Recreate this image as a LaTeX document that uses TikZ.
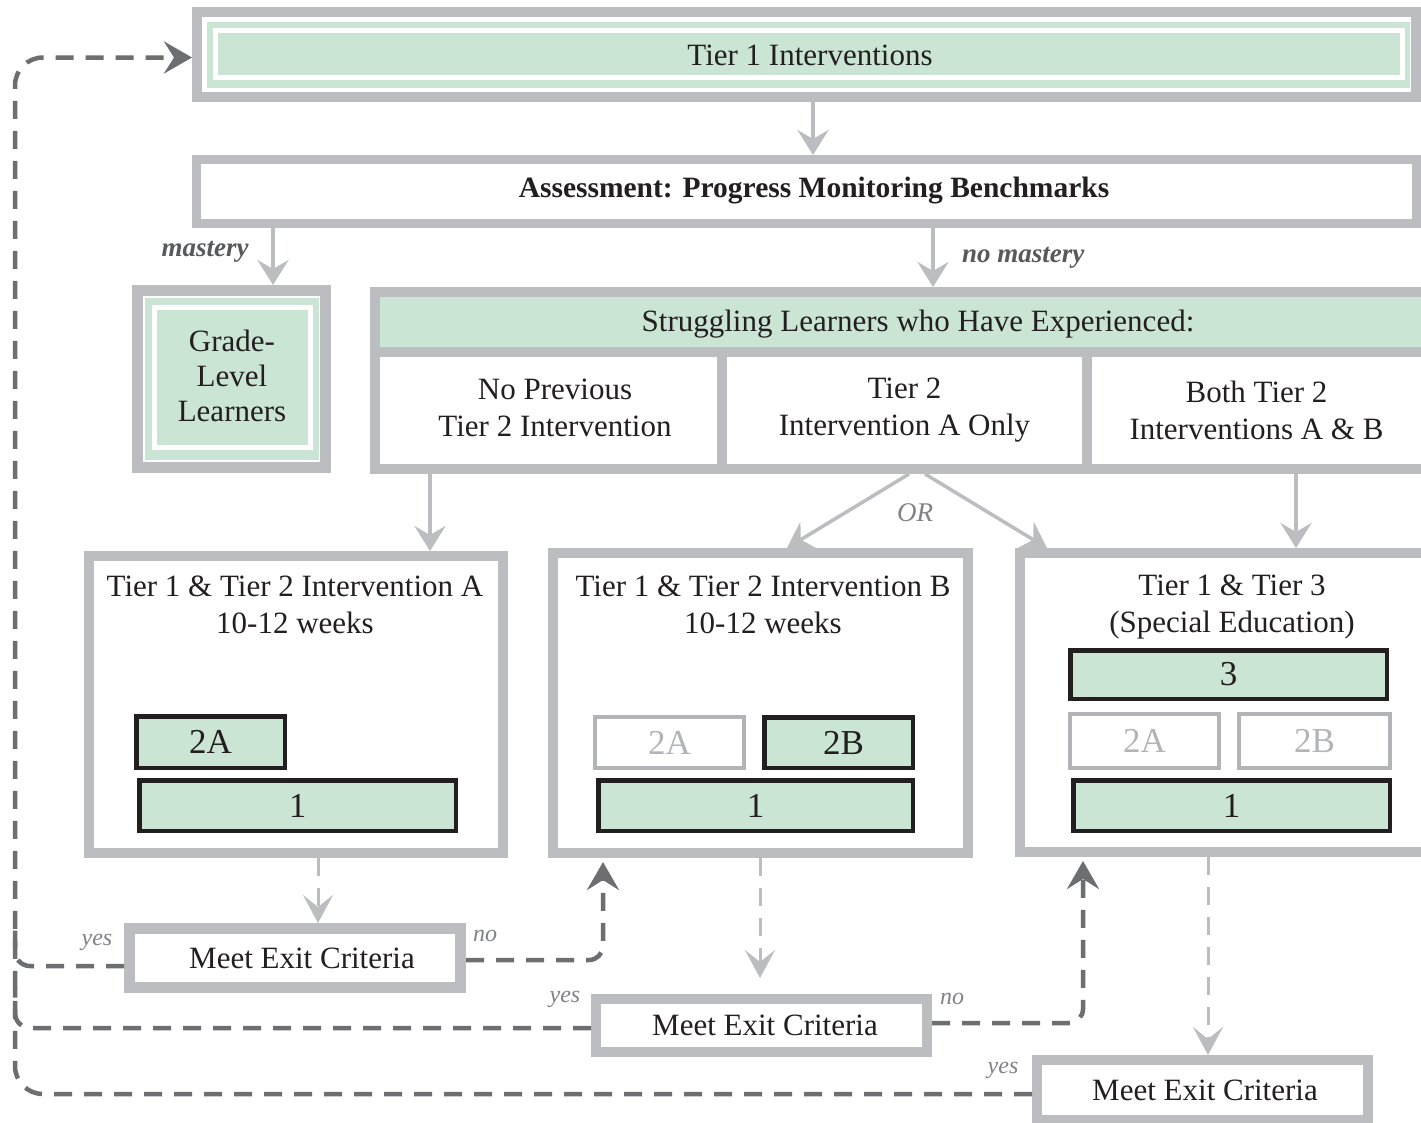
\documentclass[tikz,border=0pt]{standalone}
\usepackage{fontspec}
\setmainfont{Liberation Serif}
\usetikzlibrary{arrows.meta}
\definecolor{frame}{RGB}{188,189,192}
\definecolor{mint}{RGB}{203,229,212}
\definecolor{ink}{RGB}{35,31,32}
\definecolor{dashgray}{RGB}{109,110,113}
\definecolor{labelgray}{RGB}{88,89,91}
\definecolor{softgray}{RGB}{128,130,133}
\definecolor{ghost}{RGB}{178,180,183}

\begin{document}
\begin{tikzpicture}[x=1pt,y=-1pt,
  box/.style={draw=frame, line width=10pt, fill=white, inner sep=0pt},
  body/.style={font=\fontsize{31}{37}\selectfont, text=ink, align=center, inner sep=0pt},
  exitbox/.style={box, font=\fontsize{31}{37}\selectfont, text=ink, minimum width=331pt},
  tierbar/.style={draw=ink, line width=4.5pt, fill=mint, inner sep=0pt,
    font=\fontsize{35}{40}\selectfont, text=ink},
  ghostbar/.style={draw=ghost, line width=4pt, fill=white, inner sep=0pt,
    font=\fontsize{35}{40}\selectfont, text=ghost},
  flow/.style={draw=frame, line width=4.5pt, -{Stealth[length=25pt,width=31pt,inset=9pt]}},
  exitline/.style={draw=frame, line width=3pt, dash pattern=on 18pt off 12pt,
    -{Stealth[length=28pt,width=30pt,inset=12pt]}},
  backline/.style={draw=dashgray, line width=4.5pt, dash pattern=on 18pt off 12pt},
  backtip/.style={-{Stealth[length=28pt,width=32pt,inset=10pt]}},
  branchtag/.style={font=\fontsize{27}{30}\selectfont\bfseries\itshape, text=labelgray, inner sep=0pt},
  yn/.style={font=\fontsize{24}{28}\selectfont\itshape, text=softgray, inner sep=0pt},
]
\useasboundingbox (0,0) rectangle (1421,1122);
\fill[white] (0,0) rectangle (1421,1122);
\clip (0,0) rectangle (1421,1122);

% column positions used by the connectors
\coordinate (busx) at (15,0);
\coordinate (xm) at (273,0);
\coordinate (xa) at (813,0);
\coordinate (xn) at (933,0);
\coordinate (xc1) at (430,0);
\coordinate (xc3) at (1296,0);
\coordinate (xbl) at (787,0);
\coordinate (xcr) at (1047,0);
\coordinate (x318) at (318,0);
\coordinate (x760) at (760,0);
\coordinate (x1208) at (1208,0);
\coordinate (x603) at (603,0);
\coordinate (x1083) at (1083,0);

% Tier 1
\node[box, minimum width=1219pt, minimum height=85pt] (t1) at (806.5,54.5) {};
\fill[mint] (207,22) rectangle (1410,88);
\draw[white, line width=5pt] (215.5,30.5) rectangle (1402.5,77.5);
\node[body] (t1txt) at (810,55) {Tier 1 Interventions};

% Assessment
\node[box, line width=9pt, minimum width=1220pt, minimum height=64pt] (assess) at (806.5,191.5) {};
\node[body, font=\fontsize{29.5}{35}\selectfont\bfseries] (assesstxt) at (814,191) {Assessment: Progress Monitoring Benchmarks};

% Grade-level learners
\node[box, line width=11pt, minimum width=188pt, minimum height=177pt] (grade) at (231.5,379) {};
\fill[mint] (145,298) rectangle (319,460);
\draw[white, line width=5pt] (154.5,307.5) rectangle (310.5,447.5);
\node[body, font=\fontsize{31}{35}\selectfont] (gradetxt) at (232,376) {Grade-\\Level\\Learners};

% Struggling learners table
\node[box, fill=mint, minimum width=1051pt, minimum height=60pt] (strug) at (900.5,322) {};
\node[body] (strugtxt) at (918,324) {Struggling Learners who Have Experienced:};
\node[box, body, minimum width=348pt, minimum height=117pt] (c1) at (549,410.5) {};
\node[body] (c1txt) at (555,408) {No Previous\\Tier 2 Intervention};
\node[box, body, minimum width=365pt, minimum height=117pt] (c2) at (904.5,410.5) {Tier 2\\Intervention A Only};
\node[box, body, minimum width=339pt, minimum height=117pt] (c3) at (1256.5,410.5) {Both Tier 2\\Interventions A \& B};

% Intervention boxes
\node[box, minimum width=414pt, minimum height=297pt] (A) at (296,704.5) {};
\node[body] (atxt) at (295,605) {Tier 1 \& Tier 2 Intervention A\\10-12 weeks};
\node[tierbar, minimum width=148.5pt, minimum height=51.5pt] (a2a) at (210.5,742) {2A};
\node[tierbar, minimum width=316.5pt, minimum height=50.5pt] (a1) at (297.5,805.5) {1};

\node[box, minimum width=415pt, minimum height=300pt] (B) at (760.5,703) {};
\node[body] (btxt) at (763,605) {Tier 1 \& Tier 2 Intervention B\\10-12 weeks};
\node[ghostbar, minimum width=149pt, minimum height=51pt] (b2a) at (669.5,742.5) {2A};
\node[tierbar, minimum width=148.5pt, minimum height=50.5pt] (b2b) at (838.5,742.5) {\hspace*{10pt}2B};
\node[tierbar, minimum width=314.5pt, minimum height=50.5pt] (b1) at (755.5,805.5) {1};

\node[box, minimum width=406pt, minimum height=299pt] (C) at (1223,702.5) {};
\node[body] (ctxt) at (1232,607) {Tier 1 \& Tier 3\\(Special Education)};
\node[tierbar, minimum width=316.5pt, minimum height=48.5pt] (c3bar) at (1228.5,674.5) {3};
\node[ghostbar, minimum width=149pt, minimum height=54pt] (c2a) at (1144.5,741) {2A};
\node[ghostbar, minimum width=151pt, minimum height=54pt] (c2b) at (1314.5,741) {2B};
\node[tierbar, minimum width=316.5pt, minimum height=50.5pt] (c1bar) at (1231.5,805.5) {1};

% Exit checks
\node[exitbox, line width=11pt, minimum height=59pt] (E1) at (295,958) {\hspace*{14pt}Meet Exit Criteria};
\node[exitbox, minimum height=53pt] (E2) at (761.5,1025.5) {\hspace*{7pt}Meet Exit Criteria};
\node[exitbox, minimum height=60pt] (E3) at (1202.5,1090) {\hspace*{5pt}\raisebox{-4pt}{Meet Exit Criteria}};

% Solid flow arrows
\draw[flow] (t1.south -| xa) -- (assess.north -| xa);
\draw[flow] (assess.south -| xm) -- (grade.north -| xm);
\draw[flow] (assess.south -| xn) -- (strug.north -| xn);
\draw[flow] (c1.south -| xc1) -- (A.north -| xc1);
\draw[flow] (c3.south -| xc3) -- (C.north -| xc3);
\draw[flow, line width=3.5pt] ([xshift=4.5pt]c2.south) -- (B.north -| xbl);
\draw[flow, line width=3.5pt] ([xshift=20.5pt]c2.south) -- (C.north -| xcr);

% Arrows into the exit checks
\draw[exitline] (A.south -| x318) -- (E1.north -| x318);
\draw[exitline, shorten >=16pt] (B.south -| x760) -- (E2.north -| x760);
\draw[exitline] (C.south -| x1208) -- (E3.north -| x1208);

% "no": move to the next intervention
\coordinate (e1no) at ([yshift=-2pt]E1.east);
\coordinate (e2no) at ([yshift=2.5pt]E2.east);
\draw[backline, backtip, rounded corners=14pt, shorten >=4pt] (e1no) -- (e1no -| x603) -- (B.south -| x603);
\draw[backline, backtip, rounded corners=14pt, shorten >=4pt] (e2no) -- (e2no -| x1083) -- (C.south -| x1083);

% "yes": back to Tier 1
\coordinate (e1yes) at ([yshift=-8pt]E1.west);
\coordinate (e2yes) at ([yshift=-2.5pt]E2.west);
\coordinate (e3yes) at ([yshift=-4pt]E3.west);
\coordinate (t1in) at ([yshift=-3pt]t1.west);
\draw[backline, backtip, rounded corners=28pt] (e3yes) -- (e3yes -| busx) -- (busx |- t1in) -- (t1in);
\draw[backline, rounded corners=15pt] (e1yes) -- (e1yes -| busx) -- ++(0,-40);
\draw[backline, rounded corners=15pt] (e2yes) -- (e2yes -| busx) -- ++(0,-40);

% Labels
\node[branchtag] (mlab) at (205,252) {mastery};
\node[branchtag, anchor=west] (nmlab) at (962,258) {no mastery};
\node[font=\fontsize{27}{30}\selectfont\itshape, text=softgray, inner sep=0pt] (orlab) at (915,513) {OR};
\node[yn] (y1) at (97,942) {yes};
\node[yn] (n1) at (485,936) {no};
\node[yn] (y2) at (565,999) {yes};
\node[yn] (n2) at (952,999) {no};
\node[yn] (y3) at (1003,1070) {yes};
\end{tikzpicture}
\end{document}
